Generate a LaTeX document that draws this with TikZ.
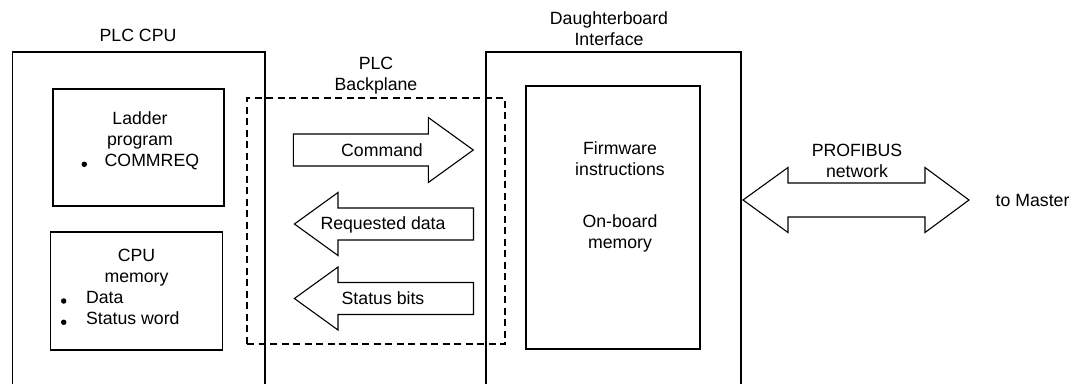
\documentclass[tikz,border=0pt]{standalone}
\usepackage{fontspec}
\setmainfont{Liberation Sans}
\begin{document}
\begin{tikzpicture}[x=1pt,y=-1pt,line width=1.4pt,
  lbl/.style={font=\fontsize{17.7}{21}\selectfont, inner sep=0pt, align=center, anchor=base},
  lbll/.style={lbl, anchor=base west},
  box/.style={draw, line width=1.4pt, inner sep=0pt},
  dashbox/.style={draw, line width=1.2pt, dash pattern=on 7pt off 4.5pt, inner sep=0pt},
  bulletdot/.style={circle, fill, inner sep=0pt, minimum size=5.5pt},
  blockarrow/.style={draw, line width=1.1pt, fill=white, line join=miter}]
\useasboundingbox (0,0) rectangle (1081,384);
\fill[white] (0,0) rectangle (1081,384);

% enclosures, open at the bottom edge
\draw (12.7,384) |- (265,52) -- (265,384);
\draw (486,384) |- (741,52) -- (741,384);
% multi-line labels are placed by the baseline of their last line
\node[lbl] (cpuTitle) at (138,41) {PLC CPU};
\node[lbl] (dbTitle) at (609,45.5) {Daughterboard\\Interface};

% backplane region
\node[dashbox, minimum width=258pt, minimum height=246pt] (backplane) at (376,221) {};
\node[lbl] (bpTitle) at (376,90) {PLC\\Backplane};

% PLC CPU contents
\node[box, minimum width=171pt, minimum height=117pt] (ladder) at (138.4,147.5) {};
\node[lbl] (ladderTxt) at (140,145) {Ladder\\program};
\node[bulletdot] (b1) at (84.3,164.3) {};
\node[lbll] (commreq) at (104,166.5) {COMMREQ};

\node[box, minimum width=172pt, minimum height=118pt] (cpumem) at (136.4,291) {};
\node[lbl] (memTxt) at (136.5,282) {CPU\\memory};
\node[bulletdot] (b2) at (63.7,301) {};
\node[lbll] (dataTxt) at (85.4,303) {Data};
\node[bulletdot] (b3) at (63.7,322.3) {};
\node[lbll] (swTxt) at (85.4,324) {Status word};

% daughterboard contents
\node[box, minimum width=174pt, minimum height=263pt] (fw) at (613,217.5) {};
\node[lbl] (fwTxt) at (620,175) {Firmware\\instructions};
\node[lbl] (obTxt) at (620,248) {On-board\\memory};

% backplane transfers
\draw[blockarrow] (293.3,134) -- (428.3,134) -- (428.3,117.5) -- (473.3,150) -- (428.3,182.5) -- (428.3,166) -- (293.3,166) -- cycle;
\node[lbl] (cmd) at (382,156.5) {Command};
\draw[blockarrow] (473.5,208) -- (338,208) -- (338,192.5) -- (294.4,224) -- (338,255.5) -- (338,240) -- (473.5,240) -- cycle;
\node[lbl] (req) at (383,229) {Requested data};
\draw[blockarrow] (473.5,282.5) -- (338,282.5) -- (338,267) -- (294.4,298.5) -- (338,330) -- (338,314.5) -- (473.5,314.5) -- cycle;
\node[lbl] (stat) at (383,304) {Status bits};

% network link
\draw[blockarrow] (743,200) -- (788,167.5) -- (788,183) -- (925,183) -- (925,167.5) -- (969,200) -- (925,232.5) -- (925,217) -- (788,217) -- (788,232.5) -- cycle;
\node[lbl] (net) at (857,177) {PROFIBUS\\network};
\node[lbll] (master) at (995,206) {to Master};
\end{tikzpicture}
\end{document}
